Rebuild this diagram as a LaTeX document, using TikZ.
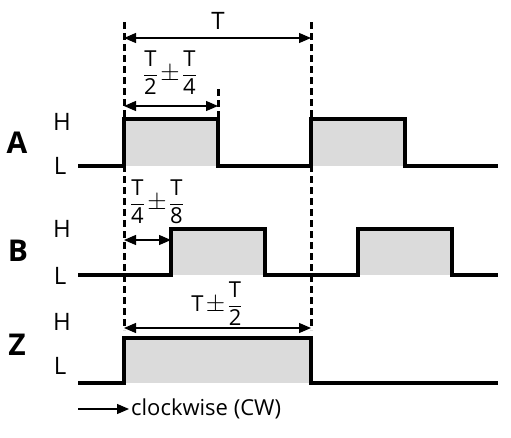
\documentclass[tikz,border=0pt]{standalone}
\usepackage{fontspec}
\setmainfont{Open Sans}
\usepackage{amsmath}
\usetikzlibrary{arrows.meta}
\newcommand{\bigpm}{\mskip2mu\text{\fontsize{30}{32}\selectfont$\pm$}\mskip2mu}

\begin{document}
\begin{tikzpicture}[x=1pt,y=-1pt,
    sig/.style={line width=3.5pt, line join=miter},
    pulse/.style={fill=black!14},
    guide/.style={line width=3pt, dash pattern=on 7pt off 4pt},
    dim/.style={line width=1.2pt, {Triangle[length=12pt,width=10pt]}-{Triangle[length=12pt,width=10pt]}},
    lvl/.style={font=\fontsize{24}{26}\selectfont},
    chan/.style={font=\fontsize{30}{32}\selectfont\bfseries},
    fraclbl/.style={font=\fontsize{22}{24}\selectfont, inner sep=0pt}]
    \useasboundingbox (0,0) rectangle (511,437);

    % channel names and levels
    \node[chan] (nameA) at (17,143) {A};
    \node[lvl] (hiA) at (62,122) {H};
    \node[lvl] (loA) at (60,166) {L};
    \node[chan] (nameB) at (18,251) {B};
    \node[lvl] (hiB) at (62,229) {H};
    \node[lvl] (loB) at (60,276) {L};
    \node[chan] (nameZ) at (17,345) {Z};
    \node[lvl] (hiZ) at (62,322) {H};
    \node[lvl] (loZ) at (60,366) {L};

    % gray pulses
    \fill[pulse] (124,119) rectangle (218,166);
    \fill[pulse] (311,119) rectangle (405,166);
    \fill[pulse] (171,229) rectangle (265,275);
    \fill[pulse] (358,229) rectangle (452,275);
    \fill[pulse] (124,338) rectangle (311,383);

    % signals
    \draw[sig] (78,166) -- (124,166) -- (124,119) -- (218,119) -- (218,166)
        -- (311,166) -- (311,119) -- (405,119) -- (405,166) -- (498,166);
    \draw[sig] (78,275) -- (171,275) -- (171,229) -- (265,229) -- (265,275)
        -- (358,275) -- (358,229) -- (452,229) -- (452,275) -- (498,275);
    \draw[sig] (78,383) -- (124,383) -- (124,338) -- (311,338) -- (311,383) -- (498,383);

    % guide lines
    \coordinate (gL) at (124,22);
    \coordinate (gR) at (311,22);
    \coordinate (gM) at (218,89);
    \draw[guide] (gL) -- (124,330);
    \draw[guide] (gR) -- (311,330);
    \draw[guide] (gM) -- (218,119);

    % dimensions
    \coordinate (pL) at (124,38);
    \coordinate (pR) at (311,38);
    \draw[dim] (pL) -- (pR);
    \node[lvl] (per) at (218,21) {T};
    \coordinate (aL) at (124,106);
    \coordinate (aR) at (218,106);
    \draw[dim] (aL) -- (aR);
    \node[fraclbl] (duty) at (170,73) {$\dfrac{\text{T}}{\text{2}}\bigpm\dfrac{\text{T}}{\text{4}}$};
    \coordinate (bL) at (124,240);
    \coordinate (bR) at (171,240);
    \draw[dim] (bL) -- (bR);
    \node[fraclbl] (phase) at (157,202) {$\dfrac{\text{T}}{\text{4}}\bigpm\dfrac{\text{T}}{\text{8}}$};
    \coordinate (zL) at (124,328);
    \coordinate (zR) at (311,328);
    \draw[dim] (zL) -- (zR);
    \node[fraclbl] (index) at (217,304) {$\text{T}\bigpm\dfrac{\text{T}}{\text{2}}$};

    % direction
    \coordinate (cw0) at (78,409);
    \coordinate (cw1) at (129,409);
    \draw[line width=1.2pt, -{Triangle[length=12pt,width=10pt]}] (cw0) -- (cw1);
    \node[font=\fontsize{22}{24}\selectfont, anchor=west, inner sep=0pt] (dir) at (131,409) {clockwise (CW)};
\end{tikzpicture}
\end{document}
